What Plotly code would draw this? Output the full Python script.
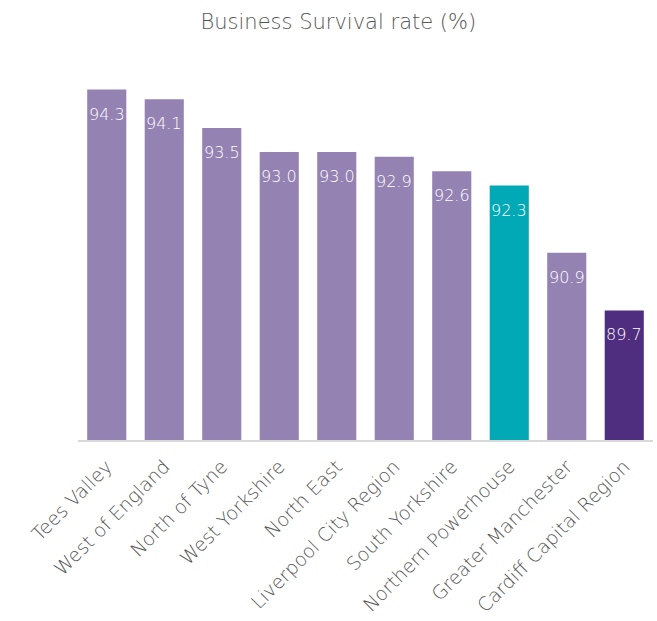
import plotly.graph_objects as go

regions = [
    "Tees Valley", "West of England", "North of Tyne", "West Yorkshire",
    "North East", "Liverpool City Region", "South Yorkshire",
    "Northern Powerhouse", "Greater Manchester", "Cardiff Capital Region",
]
survival_rate = [94.3, 94.1, 93.5, 93.0, 93.0, 92.9, 92.6, 92.3, 90.9, 89.7]

PURPLE = "#9482b2"
TEAL = "#00a9b5"
DARK = "#4f2d7f"
bar_colors = [PURPLE] * 7 + [TEAL, PURPLE, DARK]

FONT = "DejaVu Sans"

fig = go.Figure(
    go.Bar(
        x=regions,
        y=survival_rate,
        marker=dict(color=bar_colors, line=dict(width=0)),
        hoverinfo="x+y",
    )
)

for name, val in zip(regions, survival_rate):
    fig.add_annotation(
        x=name, y=val, text=f"{val:.1f}", showarrow=False,
        yanchor="top", yshift=-13,
        font=dict(family=FONT, size=16, color="white", weight=200),
    )

fig.update_layout(
    width=657, height=621,
    margin=dict(l=78, r=4, t=56, b=181),
    paper_bgcolor="white", plot_bgcolor="white",
    bargap=0.32,
    showlegend=False,
    title=dict(
        text="Business Survival rate (%)",
        x=0.515, xanchor="center", y=0.965, yanchor="middle",
        font=dict(family=FONT, size=21, color="#555555", weight=200),
    ),
)
fig.update_xaxes(
    tickangle=-45,
    tickfont=dict(family=FONT, size=19, color="#555555", weight=200),
    ticklabelstandoff=6,
    showline=True, linecolor="#d9d9d9", linewidth=2,
    ticks="", showgrid=False,
)
fig.update_yaxes(
    range=[87, 95], visible=False, showgrid=False,
)

fig.write_html("out.html")
